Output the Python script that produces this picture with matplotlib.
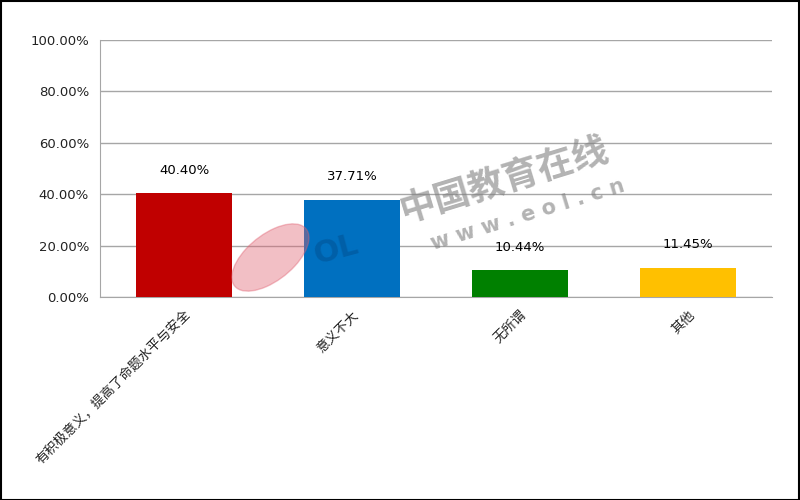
import matplotlib
matplotlib.use('Agg')
import matplotlib.pyplot as plt
from matplotlib.patches import Rectangle, Ellipse

categories = ['有积极意义，提高了命题水平与安全', '意义不大', '无所谓', '其他']
percents = [40.40, 37.71, 10.44, 11.45]
bar_colors = ['#c00000', '#0070c0', '#008000', '#ffc000']
yticks = [0, 20, 40, 60, 80, 100]
ytick_labels = ['0.00%', '20.00%', '40.00%', '60.00%', '80.00%', '100.00%']

plt.rcParams['font.family'] = ['Noto Sans CJK SC', 'DejaVu Sans']

fig = plt.figure(figsize=(8, 5), dpi=100)
ax = fig.add_axes([0.125, 0.406, 0.84, 0.514])

x = list(range(len(categories)))
ax.bar(x, percents, width=0.57, color=bar_colors, zorder=3)
for xi, v in zip(x, percents):
    ax.annotate('%.2f%%' % v, (xi, v), xytext=(0, 12), textcoords='offset points',
                ha='center', va='bottom', fontsize=9.5, family='DejaVu Sans', zorder=5)

ax.set_xlim(-0.5, 3.5)
ax.set_ylim(0, 100)
ax.set_yticks(yticks)
ax.set_yticklabels(ytick_labels, family='DejaVu Sans', fontsize=9.5, color='#222222')
ax.set_xticks(x)
ax.set_xticklabels(categories, rotation=45, ha='right', rotation_mode='anchor',
                   fontsize=9.5, color='#222222')
ax.tick_params(axis='both', length=0, pad=8)
ax.grid(axis='y', color='#a6a6a6', linewidth=1, zorder=0)
for side in ['top', 'right']:
    ax.spines[side].set_visible(False)
ax.spines['left'].set_color('#a6a6a6')
ax.spines['bottom'].set_color('#a6a6a6')

# watermark
fig.add_artist(Ellipse((0.338, 0.485), 0.07, 0.15, angle=-30, color='#e06070', alpha=0.4,
                       transform=fig.transFigure, zorder=10))
fig.text(0.42, 0.5, 'OL', fontsize=22, fontweight='bold', color='#00407a', alpha=0.35,
         rotation=15, ha='center', va='center', family='DejaVu Sans', zorder=11)
fig.text(0.63, 0.64, '中国教育在线', fontsize=26, fontweight='bold', color='#808080', alpha=0.6,
         rotation=17, ha='center', va='center', zorder=11)
fig.text(0.66, 0.57, 'w w w . e o l . c n', fontsize=15, fontweight='bold', color='#808080',
         alpha=0.6, rotation=17, ha='center', va='center', family='DejaVu Sans', zorder=11)

fig.add_artist(Rectangle((0.001, 0.001), 0.998, 0.997, fill=False, edgecolor='black',
                         linewidth=1.5, transform=fig.transFigure))

fig.savefig('out.png', dpi=100)
